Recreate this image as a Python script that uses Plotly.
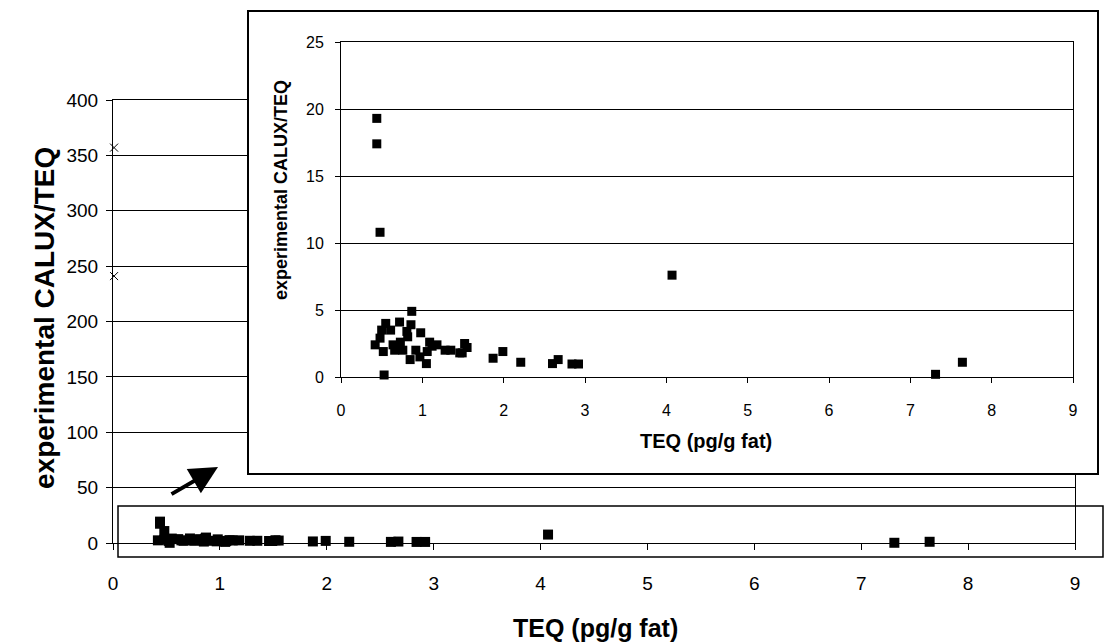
import plotly.graph_objects as go

# ---- data ----
teq = [0.44, 0.44, 0.48, 0.87, 0.55, 0.72, 0.86, 0.50, 0.61, 0.81, 0.98, 0.48, 0.82,
       0.42, 0.64, 0.73, 1.09, 1.18, 1.52, 0.52, 0.66, 0.76, 0.92, 1.06, 1.28, 1.46,
       1.55, 0.85, 1.05, 0.53, 0.97, 1.49, 1.87, 1.99, 2.21, 2.60, 2.67, 2.84, 2.92,
       4.07, 7.31, 7.64, 1.12, 1.35]
calux_teq = [19.3, 17.4, 10.8, 4.9, 4.0, 4.1, 3.9, 3.5, 3.5, 3.4, 3.3, 2.9, 3.0,
             2.4, 2.4, 2.6, 2.6, 2.4, 2.5, 1.9, 2.0, 2.0, 2.0, 1.9, 2.0, 1.8,
             2.2, 1.3, 1.0, 0.15, 1.5, 1.8, 1.4, 1.9, 1.1, 1.0, 1.3, 0.97, 0.97,
             7.6, 0.2, 1.1, 2.3, 2.0]
outlier_teq = [0.01, 0.01]
outlier_calux_teq = [357, 241]

main_xticks = [0, 1, 2, 3, 4, 5, 6, 7, 8, 9]
main_yticks = [0, 50, 100, 150, 200, 250, 300, 350, 400]
inset_yticks = [0, 5, 10, 15, 20, 25]

W, H = 1105, 644
def px(x):
    return x / W
def py(y):
    return 1 - y / H

FONT = "Liberation Sans, Arial, sans-serif"

fig = go.Figure()

# main chart
fig.add_trace(go.Scatter(x=teq, y=calux_teq, mode="markers", xaxis="x", yaxis="y",
                         marker=dict(symbol="square", size=10, color="black"),
                         cliponaxis=False, showlegend=False))
fig.add_trace(go.Scatter(x=outlier_teq, y=outlier_calux_teq, mode="markers", xaxis="x", yaxis="y",
                         marker=dict(symbol="x-thin", size=8, color="black",
                                     line=dict(color="black", width=1)),
                         cliponaxis=False, showlegend=False))
# inset frame (empty subplot whose background hides the main chart)
fig.add_trace(go.Scatter(x=[None], y=[None], xaxis="x2", yaxis="y2", showlegend=False))
# inset chart
fig.add_trace(go.Scatter(x=teq, y=calux_teq, mode="markers", xaxis="x3", yaxis="y3",
                         marker=dict(symbol="square", size=9, color="black"),
                         cliponaxis=False, showlegend=False))

axis_common = dict(ticks="outside", tickcolor="black", tickwidth=1, showline=True,
                   linecolor="black", linewidth=1, zeroline=False, automargin=False)

fig.update_layout(
    width=W, height=H, autosize=False,
    margin=dict(l=0, r=0, t=0, b=0, pad=0),
    paper_bgcolor="white", plot_bgcolor="white",
    font=dict(family=FONT, color="black"),
    xaxis=dict(domain=[px(113), px(1075)], range=[0, 9], tickvals=main_xticks,
               ticklen=6, showgrid=False, mirror=True, anchor="y",
               tickfont=dict(size=19), ticklabelstandoff=17, **axis_common),
    yaxis=dict(domain=[py(543), py(100)], range=[0, 400], tickvals=main_yticks,
               ticklen=6, showgrid=True, gridcolor="black", gridwidth=1, mirror=True,
               anchor="x", tickfont=dict(size=19), ticklabelstandoff=4, **axis_common),
    xaxis2=dict(domain=[px(249), px(1097)], range=[0, 1], visible=True, showticklabels=False,
                ticks="", showgrid=False, zeroline=False, showline=True, mirror=True,
                linecolor="black", linewidth=1.5, anchor="y2", fixedrange=True,
                automargin=False),
    yaxis2=dict(domain=[py(473), py(12)], range=[0, 1], visible=True, showticklabels=False,
                ticks="", showgrid=False, zeroline=False, showline=True, mirror=True,
                linecolor="black", linewidth=1.5, anchor="x2", fixedrange=True,
                automargin=False),
    xaxis3=dict(domain=[px(341), px(1073)], range=[0, 9], tickvals=main_xticks,
                ticklen=5, showgrid=False, anchor="y3", mirror=True,
                tickfont=dict(size=16), ticklabelstandoff=14, **axis_common),
    yaxis3=dict(domain=[py(377), py(42)], range=[0, 25], tickvals=inset_yticks,
                ticklen=5, showgrid=True, gridcolor="black", gridwidth=1, anchor="x3",
                mirror=True, tickfont=dict(size=16), ticklabelstandoff=8, **axis_common),
)

annotations = [
    dict(text="<b>TEQ (pg/g fat)</b>", x=px(595), y=py(628), xref="paper", yref="paper",
         showarrow=False, font=dict(size=25), xanchor="center", yanchor="middle"),
    dict(text="<b>experimental CALUX/TEQ</b>", x=px(44), y=py(318), xref="paper", yref="paper",
         showarrow=False, font=dict(size=28), textangle=-90, xanchor="center", yanchor="middle"),
    dict(text="<b>TEQ (pg/g fat)</b>", x=px(706), y=py(441), xref="paper", yref="paper",
         showarrow=False, font=dict(size=20), xanchor="center", yanchor="middle"),
    dict(text="<b>experimental CALUX/TEQ</b>", x=px(281), y=py(190), xref="paper", yref="paper",
         showarrow=False, font=dict(size=18), textangle=-90, xanchor="center", yanchor="middle"),
    dict(text="", x=px(218), y=py(467), xref="paper", yref="paper", showarrow=True,
         ax=-48, ay=28, axref="pixel", ayref="pixel", arrowhead=2, arrowsize=1.4,
         arrowwidth=4, arrowcolor="black"),
]
fig.update_layout(annotations=annotations)

fig.add_shape(type="rect", xref="paper", yref="paper", x0=px(118), x1=px(1103),
              y0=py(557), y1=py(506), line=dict(color="black", width=1.5),
              fillcolor="rgba(0,0,0,0)", layer="above")

fig.write_html("out.html")
